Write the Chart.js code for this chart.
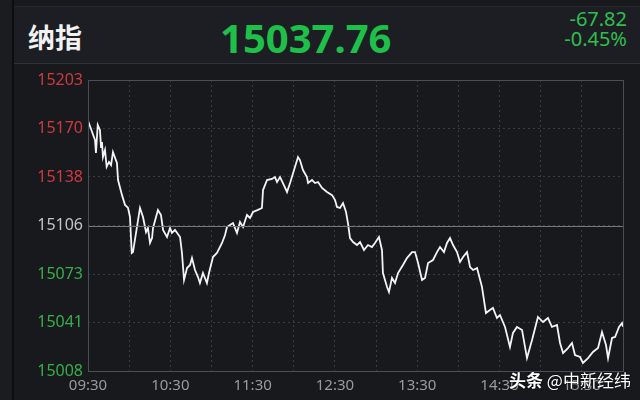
<!DOCTYPE html>
<html>
<head>
<meta charset="utf-8">
<script src="https://cdn.jsdelivr.net/npm/chart.js@4/dist/chart.umd.min.js"></script>
<style>
    html, body { margin: 0; padding: 0; background: #17191d; }
    #wrap { position: relative; width: 640px; height: 400px; overflow: hidden; background: #17191d; }
    #leftStrip { position: absolute; left: 0; top: 0; width: 12px; height: 400px; background: #1a1c20; border-right: 2px solid #0c0d0f; }
    #header { position: absolute; left: 14px; top: 6px; width: 626px; height: 56px; background: #1c1e23; border-top: 1px solid #26282d; border-bottom: 1px solid #2f3237; }
    #name { position: absolute; left: 14px; top: 10px; font: bold 27px "Noto Sans CJK SC", sans-serif; color: #f2f2f2; }
    #price { position: absolute; left: 206px; top: 3px; font: bold 40px "Noto Sans", sans-serif; color: #1fc04a; }
    #change { position: absolute; right: 13px; top: 2px; text-align: right; font: 20px "Noto Sans", sans-serif; line-height: 20px; color: #2fbf4f; }
    #mark { position: absolute; left: 509px; top: 367px; font: 17px "Noto Sans CJK SC", sans-serif; color: #ffffff; text-shadow: 0 0 2px #000; }
    #mark b { font-weight: bold; }
    canvas { position: absolute; left: 0; top: 0; }
</style>
</head>
<body>
<div id="wrap">
    <div id="leftStrip"></div>
    <div id="header">
        <div id="name">纳指</div>
        <div id="price">15037.76</div>
        <div id="change">-67.82<br>-0.45%</div>
    </div>
    <canvas id="chart" width="640" height="400"></canvas>
    <div id="mark"><b>头条</b> @中新经纬</div>
</div>
<script>
// 分时数据（分钟数从09:30开始）
const minutes = [0, 5.1, 5.8, 7.1, 8.7, 9.5, 10.2, 10.9, 12.4, 13.6, 15.3, 16.8, 18.2, 21.1, 21.9, 24.8, 27.0, 29.2, 30.6, 31.9,
    32.8, 35.7, 37.9, 40.1, 42.3, 43.7, 45.2, 46.7, 47.4, 49.6, 51.0, 53.2, 54.7, 57.6, 59.8, 61.2, 63.4, 67.1, 68.5, 70.0,
    72.2, 74.4, 75.8, 78.0, 80.2, 81.6, 83.8, 86.7, 88.2, 91.1, 94.0, 97.7, 99.9, 101.3, 103.5, 105.7, 108.6, 110.8, 113.0, 115.9,
    118.1, 120.3, 123.9, 126.8, 127.6, 130.5, 134.1, 136.3, 137.8, 140.0, 142.1, 145.1, 147.3, 150.2, 153.1, 154.5, 156.7, 159.6, 160.4, 163.3,
    165.5, 167.7, 170.6, 174.2, 177.9, 180.1, 181.5, 183.7, 185.9, 188.1, 189.5, 191.0, 193.2, 196.1, 198.3, 201.2, 204.1, 207.0, 209.2, 212.1,
    214.3, 215.0, 218.0, 219.4, 221.6, 223.8, 226.0, 229.6, 232.5, 236.2, 238.4, 240.6, 243.5, 245.7, 247.9, 251.5, 254.4, 256.6, 259.5, 261.7,
    263.9, 266.1, 269.0, 271.2, 273.4, 276.3, 278.5, 280.7, 283.6, 287.2, 290.1, 293.0, 295.2, 298.1, 300.3, 304.0, 307.6, 309.8, 312.7, 316.4,
    320.0, 323.7, 328.0, 331.7, 335.3, 338.2, 341.9, 344.1, 346.3, 349.9, 352.8, 355.0, 358.7, 360.8, 364.5, 368.1, 371.8, 374.7, 377.6, 379.1,
    382.0, 384.2, 387.1, 389.3, 390];
const prices = [15175.7, 15162.8, 15154.1, 15172.8, 15169.5, 15158.1, 15161.4, 15151.4, 15156.1, 15144.9, 15148.1, 15146.0, 15154.7, 15147.4, 15136.0, 15125.9, 15119.3, 15117.3, 15111.3, 15087.2,
    15087.8, 15104.6, 15117.3, 15111.3, 15101.2, 15103.9, 15093.9, 15097.2, 15103.9, 15111.3, 15116.0, 15112.6, 15102.6, 15097.9, 15103.9, 15100.6, 15102.6, 15097.9, 15087.2, 15069.1,
    15077.1, 15079.2, 15083.8, 15075.8, 15071.1, 15067.1, 15073.8, 15067.1, 15073.8, 15084.5, 15087.2, 15093.9, 15099.2, 15104.6, 15105.9, 15107.2, 15100.6, 15107.9, 15104.6, 15112.6,
    15110.6, 15114.6, 15116.0, 15117.3, 15129.3, 15136.0, 15136.7, 15138.0, 15134.7, 15138.0, 15134.0, 15128.0, 15134.0, 15142.7, 15151.4, 15149.4, 15142.7, 15138.0, 15134.0, 15136.0,
    15134.0, 15134.7, 15130.7, 15128.0, 15125.9, 15122.6, 15118.0, 15117.3, 15120.6, 15114.6, 15107.2, 15097.2, 15094.5, 15092.5, 15094.5, 15089.2, 15092.5, 15091.2, 15093.9, 15097.9,
    15089.2, 15073.8, 15064.4, 15061.1, 15070.5, 15067.1, 15073.8, 15079.2, 15083.8, 15087.8, 15087.8, 15080.5, 15069.1, 15070.5, 15080.5, 15082.5, 15087.8, 15091.2, 15087.8, 15093.9,
    15097.2, 15092.5, 15087.8, 15081.2, 15084.5, 15087.8, 15077.8, 15075.8, 15077.1, 15064.4, 15047.0, 15049.0, 15050.4, 15043.7, 15045.7, 15037.7, 15024.3, 15033.7, 15037.7, 15035.7,
    15016.9, 15029.0, 15044.4, 15041.0, 15043.7, 15037.7, 15039.0, 15027.0, 15020.3, 15023.6, 15027.0, 15018.9, 15017.6, 15013.6, 15016.9, 15021.0, 15023.6, 15034.3, 15025.6, 15016.9,
    15030.3, 15031.0, 15037.7, 15040.3, 15037.8];

// 昨收和坐标轴刻度
const prevClose = 15105.58;
const yTickValues = [15008.23, 15040.68, 15073.13, 15105.58, 15138.03, 15170.48, 15202.93];
const yTickLabels = ['15008', '15041', '15073', '15106', '15138', '15170', '15203'];
const xTickLabels = ['09:30', '10:30', '11:30', '12:30', '13:30', '14:30', '15:30'];

// 边框和昨收线
const framePlugin = {
    id: 'frame',
    afterDraw(chart) {
        const ctx = chart.ctx;
        const a = chart.chartArea;
        const y = Math.round(chart.scales.y.getPixelForValue(prevClose)) + 0.5;
        ctx.save();
        ctx.strokeStyle = '#73767d';
        ctx.lineWidth = 1;
        ctx.beginPath();
        ctx.moveTo(a.left, y);
        ctx.lineTo(a.right, y);
        ctx.stroke();
        ctx.strokeStyle = '#4b4e55';
        ctx.strokeRect(Math.round(a.left) + 0.5, Math.round(a.top) + 0.5, Math.round(a.right - a.left), Math.round(a.bottom - a.top));
        ctx.restore();
    }
};

const ctx = document.getElementById('chart').getContext('2d');
const chart = new Chart(ctx, {
    type: 'line',
    data: {
        datasets: [{
            data: minutes.map((m, i) => ({ x: m, y: prices[i] })),
            borderColor: '#f4f4f4',
            borderWidth: 1.8,
            pointRadius: 0,
            tension: 0,
            fill: false
        }]
    },
    options: {
        responsive: false,
        animation: false,
        layout: { padding: { left: 0, right: 17, top: 80, bottom: 0 } },
        plugins: {
            legend: { display: false },
            tooltip: { enabled: false }
        },
        scales: {
            x: {
                type: 'linear',
                min: 0,
                max: 390,
                afterBuildTicks: axis => {
                    const t = [];
                    for (let v = 0; v <= 390; v += 30) t.push({ value: v });
                    axis.ticks = t;
                },
                afterFit: axis => { axis.height = 29; },
                grid: { color: '#393c43', lineWidth: 1, drawTicks: false },
                border: { display: false, dash: [2, 3] },
                ticks: {
                    autoSkip: false,
                    maxRotation: 0,
                    padding: 6,
                    color: '#9b9b9b',
                    font: { family: 'Noto Sans', size: 15 },
                    callback: v => (v % 60 === 0 && v < 390) ? xTickLabels[v / 60] : ''
                }
            },
            y: {
                min: yTickValues[0],
                max: yTickValues[yTickValues.length - 1],
                afterBuildTicks: axis => {
                    axis.ticks = yTickValues.map(v => ({ value: v }));
                },
                afterFit: axis => { axis.width = 88; },
                grid: { color: '#393c43', lineWidth: 1, drawTicks: false },
                border: { display: false, dash: [2, 3] },
                ticks: {
                    padding: 5,
                    font: { family: 'Noto Sans', size: 16 },
                    color: c => c.index < 3 ? '#3aad4b' : (c.index === 3 ? '#c4c4c4' : '#cf3a40'),
                    callback: (v, i) => yTickLabels[i]
                }
            }
        }
    },
    plugins: [framePlugin]
});
</script>
</body>
</html>
